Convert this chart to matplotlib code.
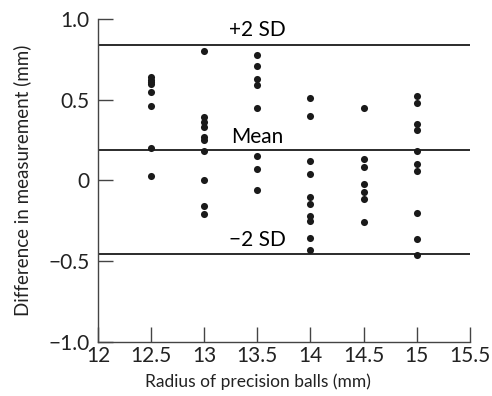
import matplotlib
matplotlib.use("Agg")
import matplotlib.pyplot as plt

plt.rcParams["font.family"] = ["Lato", "DejaVu Sans"]

# ball radius groups and the measured differences (mm)
radius = [12.5, 13, 13.5, 14, 14.5, 15]
diffs = [
    [0.64, 0.62, 0.61, 0.60, 0.55, 0.46, 0.20, 0.03],
    [0.80, 0.39, 0.36, 0.33, 0.27, 0.25, 0.18, 0.0, -0.16, -0.21],
    [0.78, 0.71, 0.63, 0.59, 0.45, 0.15, 0.07, -0.06],
    [0.51, 0.40, 0.12, 0.04, -0.10, -0.145, -0.22, -0.25, -0.36, -0.43],
    [0.45, 0.13, 0.08, -0.025, -0.07, -0.115, -0.255],
    [0.52, 0.48, 0.35, 0.31, 0.18, 0.10, 0.06, -0.20, -0.365, -0.46],
]
mean_diff = 0.19
upper_sd = 0.84
lower_sd = -0.455

xticks = [12, 12.5, 13, 13.5, 14, 14.5, 15, 15.5]
xticklabels = ["12", "12.5", "13", "13.5", "14", "14.5", "15", "15.5"]
yticks = [-1.0, -0.5, 0, 0.5, 1.0]
yticklabels = ["\u22121.0", "\u22120.5", "0", "0.5", "1.0"]

fig = plt.figure(figsize=(4.92, 3.96), dpi=100)
ax = fig.add_axes([0.199, 0.137, 0.756, 0.815])

for r, d in zip(radius, diffs):
    ax.scatter([r] * len(d), d, s=26, color="#1a1a1a", zorder=3, linewidths=0)

for y in (upper_sd, mean_diff, lower_sd):
    ax.axhline(y, color="#1a1a1a", lw=1.3, zorder=2)

ax.text(13.5, 0.93, "+2 SD", ha="center", va="center", fontsize=15)
ax.text(13.5, 0.27, "Mean", ha="center", va="center", fontsize=15)
ax.text(13.5, -0.37, "\u22122 SD", ha="center", va="center", fontsize=15)

ax.set_xlim(12, 15.5)
ax.set_ylim(-1.0, 1.0)
ax.set_xticks(xticks)
ax.set_xticklabels(xticklabels)
ax.set_yticks(yticks)
ax.set_yticklabels(yticklabels)
ax.tick_params(direction="in", length=11, width=1, color="#444444",
               labelsize=15, labelcolor="#222222")
ax.tick_params(axis="x", pad=3)
ax.tick_params(axis="y", pad=6)
for s in ("top", "right"):
    ax.spines[s].set_visible(False)
for s in ("left", "bottom"):
    ax.spines[s].set_color("#444444")
    ax.spines[s].set_linewidth(1)

ax.set_xlabel("Radius of precision balls (mm)", fontsize=12.5, color="#222222")
ax.set_ylabel("Difference in measurement (mm)", fontsize=13.5, color="#222222")
ax.xaxis.set_label_coords(0.429, -0.097)
ax.yaxis.set_label_coords(-0.18, 0.5)

fig.savefig("out.png", dpi=100)
